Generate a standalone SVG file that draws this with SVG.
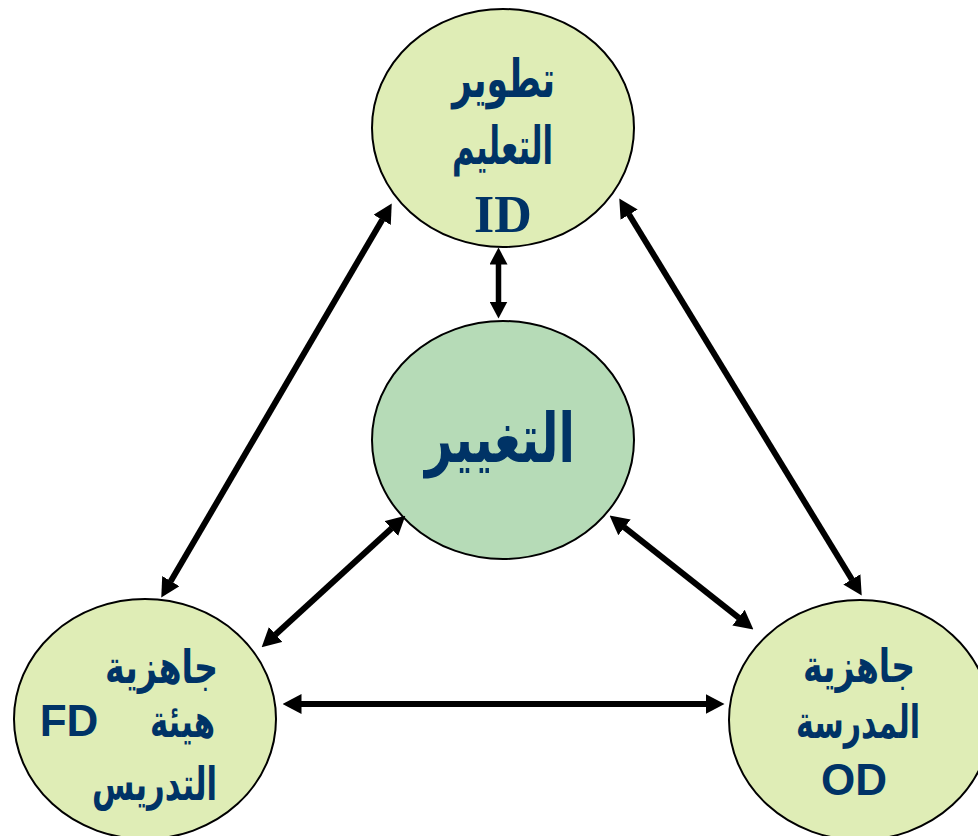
<svg xmlns="http://www.w3.org/2000/svg" width="978" height="836" viewBox="0 0 978 836">
  <style>
    .node { stroke: #000; stroke-width: 2; }
    .outer { fill: #DFEDB6; }
    .core { fill: #B6DBB7; }
    .ar { font-family: "DejaVu Sans", "Noto Sans", sans-serif; font-weight: bold; fill: #003366; }
    .lat { font-family: "Liberation Sans", Arial, sans-serif; font-weight: bold; fill: #003366; }
    .latser { font-family: "Liberation Serif", "Times New Roman", serif; font-weight: bold; fill: #003366; }
    .link { stroke: #000; stroke-width: 6; fill: none; marker-start: url(#head); marker-end: url(#head); }
    .link.short { stroke-width: 5.5; marker-start: url(#headSmall); marker-end: url(#headSmall); }
  </style>
  <defs>
    <marker id="head" markerUnits="userSpaceOnUse" viewBox="0 0 19 20" refX="0.5" refY="10" markerWidth="19" markerHeight="20" orient="auto-start-reverse">
      <path d="M0,0 L19,10 L0,20 z" fill="#000"/>
    </marker>
    <marker id="headSmall" markerUnits="userSpaceOnUse" viewBox="0 0 17 18" refX="0.5" refY="9" markerWidth="17" markerHeight="18" orient="auto-start-reverse">
      <path d="M0,0 L17,9 L0,18 z" fill="#000"/>
    </marker>
  </defs>

  <rect width="978" height="836" fill="#fff"/>

  <!-- nodes -->
  <g id="node-id">
    <ellipse class="node outer" cx="503" cy="128" rx="131" ry="119"/>
    <text class="ar" x="503.5" y="97" font-size="52" text-anchor="middle" textLength="103" lengthAdjust="spacingAndGlyphs">تطوير</text>
    <text class="ar" x="502.5" y="164" font-size="52" text-anchor="middle" textLength="101" lengthAdjust="spacingAndGlyphs">التعليم</text>
    <text class="latser" x="503" y="232" font-size="52" text-anchor="middle">ID</text>
  </g>

  <g id="node-change">
    <ellipse class="node core" cx="503" cy="440" rx="131" ry="119"/>
    <text class="ar" x="500" y="462" font-size="68" text-anchor="middle" textLength="150" lengthAdjust="spacingAndGlyphs">التغيير</text>
  </g>

  <g id="node-fd">
    <ellipse class="node outer" cx="145" cy="719" rx="131" ry="120"/>
    <text class="ar" x="161.5" y="683" font-size="46" text-anchor="middle" textLength="113" lengthAdjust="spacingAndGlyphs">جاهزية</text>
    <text class="ar" x="182.5" y="737" font-size="46" text-anchor="middle" textLength="65" lengthAdjust="spacingAndGlyphs">هيئة</text>
    <text class="ar" x="154.5" y="800" font-size="46" text-anchor="middle" textLength="125" lengthAdjust="spacingAndGlyphs">التدريس</text>
    <text class="lat" x="69" y="736" font-size="44" text-anchor="middle">FD</text>
  </g>

  <g id="node-od">
    <ellipse class="node outer" cx="860" cy="720" rx="131" ry="120"/>
    <text class="ar" x="859" y="682" font-size="46" text-anchor="middle" textLength="112" lengthAdjust="spacingAndGlyphs">جاهزية</text>
    <text class="ar" x="858" y="738" font-size="46" text-anchor="middle" textLength="124" lengthAdjust="spacingAndGlyphs">المدرسة</text>
    <text class="lat" x="854" y="795" font-size="44" text-anchor="middle">OD</text>
  </g>

  <!-- connectors: double-headed arrows -->
  <g id="connectors">
    <line class="link" x1="382.4" y1="219.4" x2="170.6" y2="581.6"/>
    <line class="link" x1="628.9" y1="214.2" x2="852.1" y2="579.8"/>
    <line class="link short" x1="498.5" y1="264" x2="498.5" y2="302"/>
    <line class="link" x1="391.7" y1="528.2" x2="275.3" y2="634.8"/>
    <line class="link" x1="624.1" y1="527.1" x2="738.9" y2="617.9"/>
    <line class="link" x1="301" y1="704" x2="706" y2="704"/>
  </g>
</svg>
